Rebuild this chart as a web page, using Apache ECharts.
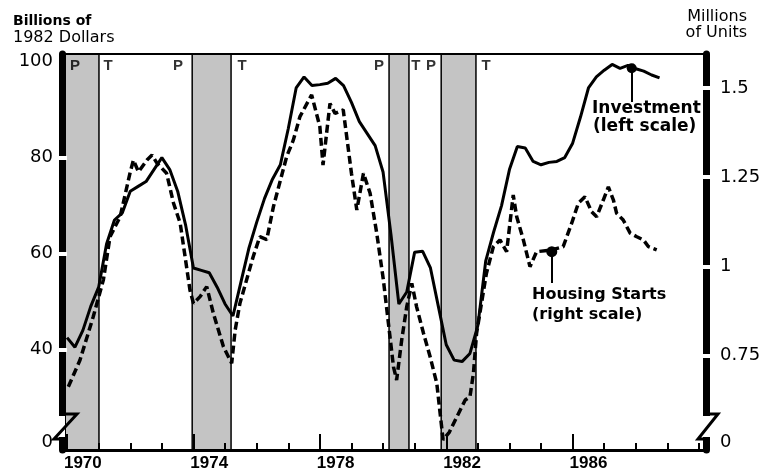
<!DOCTYPE html>
<html lang="en">
<head>
<meta charset="UTF-8">
<title>Investment and Housing Starts</title>
<style>
    html, body {
        margin: 0;
        padding: 0;
        background: #fff;
    }
    #chart {
        width: 767px;
        height: 476px;
    }
</style>
</head>
<body>
<div id="chart"></div>

<script src="https://cdn.jsdelivr.net/npm/echarts@6.0.0/dist/echarts.min.js"></script>
<script>
    // investment, quarterly, billions of 1982 dollars (left scale)
    var invDates = [1970.00, 1970.25, 1970.50, 1970.75, 1971.00, 1971.25, 1971.50, 1971.75,
        1972.00, 1972.25, 1972.50, 1972.75, 1973.00, 1973.25, 1973.50, 1973.75,
        1974.00, 1974.25, 1974.50, 1974.75, 1975.00, 1975.25, 1975.50, 1975.75,
        1976.00, 1976.25, 1976.50, 1976.75, 1977.00, 1977.25, 1977.50, 1977.75,
        1978.00, 1978.25, 1978.50, 1978.75, 1979.00, 1979.25, 1979.50, 1979.75,
        1980.00, 1980.25, 1980.50, 1980.75, 1981.00, 1981.25, 1981.50, 1981.75,
        1982.00, 1982.25, 1982.50, 1982.75, 1983.00, 1983.25, 1983.50, 1983.75,
        1984.00, 1984.25, 1984.50, 1984.75, 1985.00, 1985.25, 1985.50, 1985.75,
        1986.00, 1986.25, 1986.50, 1986.75, 1987.00, 1987.25, 1987.50, 1987.75,
        1988.00, 1988.25, 1988.50, 1988.75];
    var invValues = [42.5, 40.5, 44, 49, 53, 62, 67, 68.5,
        73, 74, 75, 77.5, 80, 77.5, 73, 66,
        57, 56.5, 56, 53, 49.5, 47, 54, 61,
        66.5, 71.5, 75.5, 78.5, 86, 94.5, 96.8, 95,
        95.2, 95.5, 96.5, 95, 91.5, 87.5, 85, 82.5,
        77, 64, 49.5, 52, 60.3, 60.5, 57, 49,
        41, 37.8, 37.5, 39.2, 45, 58.5, 64.5, 70,
        77.5, 82.3, 82, 79.2, 78.5, 79, 79.2, 80,
        83, 88.5, 94.5, 96.8, 98.2, 99.4, 98.6, 99.2,
        98.5, 98, 97.2, 96.6];

    // housing starts, millions of units (right scale)
    var hsDates = [1970.04, 1970.41, 1970.83, 1971.15, 1971.36, 1971.68, 1971.99, 1972.10,
        1972.26, 1972.53, 1972.69, 1972.85, 1973.15, 1973.37, 1973.58, 1973.89,
        1974.00, 1974.21, 1974.42, 1974.63, 1974.95, 1975.21, 1975.32, 1975.47,
        1975.89, 1976.10, 1976.32, 1976.53, 1976.95, 1977.16, 1977.37, 1977.74,
        1978.00, 1978.10, 1978.32, 1978.48, 1978.74, 1979.00, 1979.17, 1979.38,
        1979.59, 1979.80, 1980.01, 1980.17, 1980.33, 1980.43, 1980.59, 1980.75,
        1980.91, 1981.06, 1981.28, 1981.49, 1981.70, 1981.90, 1982.10, 1982.60,
        1982.75, 1982.86, 1982.96, 1983.27, 1983.49, 1983.70, 1983.91, 1984.12,
        1984.23, 1984.44, 1984.65, 1984.86, 1985.33, 1985.70, 1985.97, 1986.18,
        1986.39, 1986.60, 1986.76, 1986.97, 1987.13, 1987.29, 1987.39, 1987.60,
        1987.82, 1988.03, 1988.24, 1988.40, 1988.66];
    var hsValues = [0.662, 0.737, 0.859, 0.962, 1.083, 1.139, 1.261, 1.298,
        1.265, 1.298, 1.312, 1.289, 1.261, 1.177, 1.121, 0.933,
        0.896, 0.915, 0.943, 0.868, 0.774, 0.728, 0.821, 0.896,
        1.027, 1.083, 1.075, 1.167, 1.308, 1.354, 1.420, 1.481,
        1.392, 1.284, 1.457, 1.429, 1.439, 1.261, 1.158, 1.261,
        1.205, 1.093, 0.962, 0.840, 0.718, 0.681, 0.793, 0.887,
        0.952, 0.887, 0.812, 0.746, 0.672, 0.513, 0.535, 0.625,
        0.634, 0.700, 0.812, 0.980, 1.055, 1.074, 1.041, 1.200,
        1.139, 1.074, 0.999, 1.041, 1.046, 1.055, 1.121, 1.177,
        1.195, 1.153, 1.139, 1.186, 1.223, 1.186, 1.149, 1.130,
        1.093, 1.083, 1.074, 1.055, 1.046];

    // recessions (peak -> trough)
    var recessions = [[1969.84, 1971.01], [1973.96, 1975.19], [1980.19, 1980.82], [1981.84, 1982.94]];
    var ptDates = [1970.25, 1971.30, 1973.51, 1975.54, 1979.87, 1981.04, 1981.52, 1983.26];
    var ptMarks = ['P', 'T', 'P', 'T', 'P', 'T', 'P', 'T'];

    var tickYears = [1971, 1972, 1973, 1974, 1975, 1976, 1977, 1978, 1979, 1980,
        1981, 1982, 1983, 1984, 1985, 1986, 1987, 1988, 1989, 1990];
    var yearLabels = [1970, 1974, 1978, 1982, 1986];
    var leftTicks = [40, 60, 80, 100];
    var rightTicks = [0.75, 1, 1.25, 1.5];

    // axis ranges (axes are broken at the bottom, "0" sits just above the x axis)
    var X_MIN = 1969.84, X_MAX = 1990.22;
    var L_MIN = 19.08, L_MAX = 101.58, L_ZERO = 20.75;
    var R_MIN = 0.4846, R_MAX = 1.5957, R_ZERO = 0.507;

    var FONT = 'DejaVu Sans';

    function pairs(xs, ys) {
        return xs.map(function (x, i) {
            return [x, ys[i]];
        });
    }

    function mainY(pos, min, max, gaps, labels, zero, margin) {
        return {
            type: 'value',
            position: pos,
            min: min,
            max: max,
            z: 10,
            axisLine: { show: true, lineStyle: { color: '#000', width: 7 } },
            axisTick: { show: true, customValues: gaps, length: 5, lineStyle: { color: '#fff', width: 4 } },
            axisLabel: {
                customValues: [zero].concat(labels),
                margin: margin,
                color: '#000',
                fontFamily: FONT,
                fontSize: 18,
                formatter: function (v) {
                    return v === zero ? '0' : String(v);
                }
            },
            splitLine: { show: false }
        };
    }

    function gapY(pos, min, max, gaps) {
        return {
            type: 'value',
            position: pos,
            min: min,
            max: max,
            z: 11,
            axisLine: { show: false },
            axisTick: { show: true, inside: true, customValues: gaps, length: 5, lineStyle: { color: '#fff', width: 4 } },
            axisLabel: { show: false },
            splitLine: { show: false }
        };
    }

    var chart = echarts.init(document.getElementById('chart'));

    var option = {
        animation: false,
        backgroundColor: '#fff',
        grid: { left: 62, right: 61, top: 54, bottom: 26, containLabel: false, outerBoundsMode: 'none' },
        xAxis: [{
            type: 'value',
            position: 'bottom',
            min: X_MIN,
            max: X_MAX,
            z: 10,
            axisLine: { lineStyle: { color: '#000', width: 3 } },
            axisTick: { customValues: tickYears, inside: true, length: 7, lineStyle: { color: '#000', width: 2 } },
            axisLabel: {
                customValues: yearLabels.map(function (y) { return y + 0.5; }),
                margin: 5,
                color: '#000',
                fontFamily: 'Liberation Sans',
                fontWeight: 'bold',
                fontSize: 17,
                formatter: function (v) {
                    return String(Math.floor(v));
                }
            },
            splitLine: { show: false }
        }, {
            // taller ticks every fourth year
            type: 'value',
            position: 'bottom',
            min: X_MIN,
            max: X_MAX,
            z: 10,
            axisLine: { show: false },
            axisTick: { customValues: yearLabels, inside: true, length: 16, lineStyle: { color: '#000', width: 2 } },
            axisLabel: { show: false },
            splitLine: { show: false }
        }, {
            type: 'value',
            position: 'top',
            min: X_MIN,
            max: X_MAX,
            z: 10,
            axisLine: { lineStyle: { color: '#000', width: 2 } },
            axisTick: { show: false },
            axisLabel: { show: false },
            splitLine: { show: false }
        }],
        yAxis: [
            mainY('left', L_MIN, L_MAX, [40, 60, 80], leftTicks, L_ZERO, 9),
            mainY('right', R_MIN, R_MAX, rightTicks, rightTicks, R_ZERO, 14),
            gapY('left', L_MIN, L_MAX, [40, 60, 80]),
            gapY('right', R_MIN, R_MAX, rightTicks)
        ],
        series: [{
            name: 'Investment',
            type: 'line',
            xAxisIndex: 0,
            yAxisIndex: 0,
            data: pairs(invDates, invValues),
            symbol: 'none',
            lineStyle: { color: '#000', width: 3 },
            markArea: {
                silent: true,
                itemStyle: { color: '#c4c4c4', borderColor: '#000', borderWidth: 1.5 },
                data: recessions.map(function (r) {
                    return [{ xAxis: r[0] }, { xAxis: r[1] }];
                })
            },
            markPoint: {
                symbol: 'circle',
                symbolSize: 10,
                itemStyle: { color: '#000' },
                label: { show: false },
                data: [{ coord: [1987.87, 98.6] }]
            },
            markLine: {
                symbol: 'none',
                silent: true,
                label: { show: false },
                lineStyle: { color: '#000', width: 2, type: 'solid' },
                data: [[{ coord: [1987.87, 98.6] }, { coord: [1987.87, 91.6] }]]
            }
        }, {
            name: 'Housing Starts',
            type: 'line',
            xAxisIndex: 0,
            yAxisIndex: 1,
            data: pairs(hsDates, hsValues),
            symbol: 'none',
            lineStyle: { color: '#000', width: 3.5, type: [8, 4] },
            markPoint: {
                symbol: 'circle',
                symbolSize: 11,
                itemStyle: { color: '#000' },
                label: { show: false },
                data: [{ coord: [1985.34, 1.041] }]
            },
            markLine: {
                symbol: 'none',
                silent: true,
                label: { show: false },
                lineStyle: { color: '#000', width: 2, type: 'solid' },
                data: [[{ coord: [1985.34, 1.041] }, { coord: [1985.34, 0.953] }]]
            }
        }, {
            name: 'P/T',
            type: 'scatter',
            xAxisIndex: 0,
            yAxisIndex: 0,
            symbolSize: 1,
            itemStyle: { color: 'rgba(0,0,0,0)' },
            data: ptDates.map(function (d, i) {
                return { name: ptMarks[i], value: [d, 99.08] };
            }),
            label: {
                show: true,
                position: 'inside',
                formatter: '{b}',
                color: '#000',
                fontFamily: 'Liberation Sans',
                fontWeight: 'bold',
                fontSize: 15
            }
        }],
        graphic: [
            { type: 'text', x: 13, y: 21, z: 100, style: { text: 'Billions of', font: 'bold 14px "DejaVu Sans"', fill: '#000', verticalAlign: 'middle' } },
            { type: 'text', x: 13, y: 38, z: 100, style: { text: '1982 Dollars', font: '16px "DejaVu Sans"', fill: '#000', verticalAlign: 'middle' } },
            { type: 'text', x: 747, y: 17, z: 100, style: { text: 'Millions', font: '16px "DejaVu Sans"', fill: '#000', align: 'right', verticalAlign: 'middle' } },
            { type: 'text', x: 747, y: 33, z: 100, style: { text: 'of Units', font: '16px "DejaVu Sans"', fill: '#000', align: 'right', verticalAlign: 'middle' } },
            { type: 'text', x: 592, y: 109, z: 100, style: { text: 'Investment', font: 'bold 17px "DejaVu Sans"', fill: '#000', verticalAlign: 'middle' } },
            { type: 'text', x: 593, y: 127, z: 100, style: { text: '(left scale)', font: 'bold 17px "DejaVu Sans"', fill: '#000', verticalAlign: 'middle' } },
            { type: 'text', x: 532, y: 295, z: 100, style: { text: 'Housing Starts', font: 'bold 16px "DejaVu Sans"', fill: '#000', verticalAlign: 'middle' } },
            { type: 'text', x: 532, y: 315, z: 100, style: { text: '(right scale)', font: 'bold 16px "DejaVu Sans"', fill: '#000', verticalAlign: 'middle' } },
            // axis breaks
            { type: 'rect', z: 100, shape: { x: 56, y: 416, width: 9, height: 21 }, style: { fill: '#fff' } },
            { type: 'polyline', z: 101, shape: { points: [[59, 414], [77, 414], [54, 439], [65, 439]] }, style: { stroke: '#000', lineWidth: 3, fill: null } },
            { type: 'rect', z: 100, shape: { x: 701, y: 416, width: 11, height: 21 }, style: { fill: '#fff' } },
            { type: 'polyline', z: 101, shape: { points: [[703, 414], [718, 414], [698, 439], [710, 439]] }, style: { stroke: '#000', lineWidth: 3, fill: null } }
        ]
    };

    chart.setOption(option);
</script>
</body>
</html>
